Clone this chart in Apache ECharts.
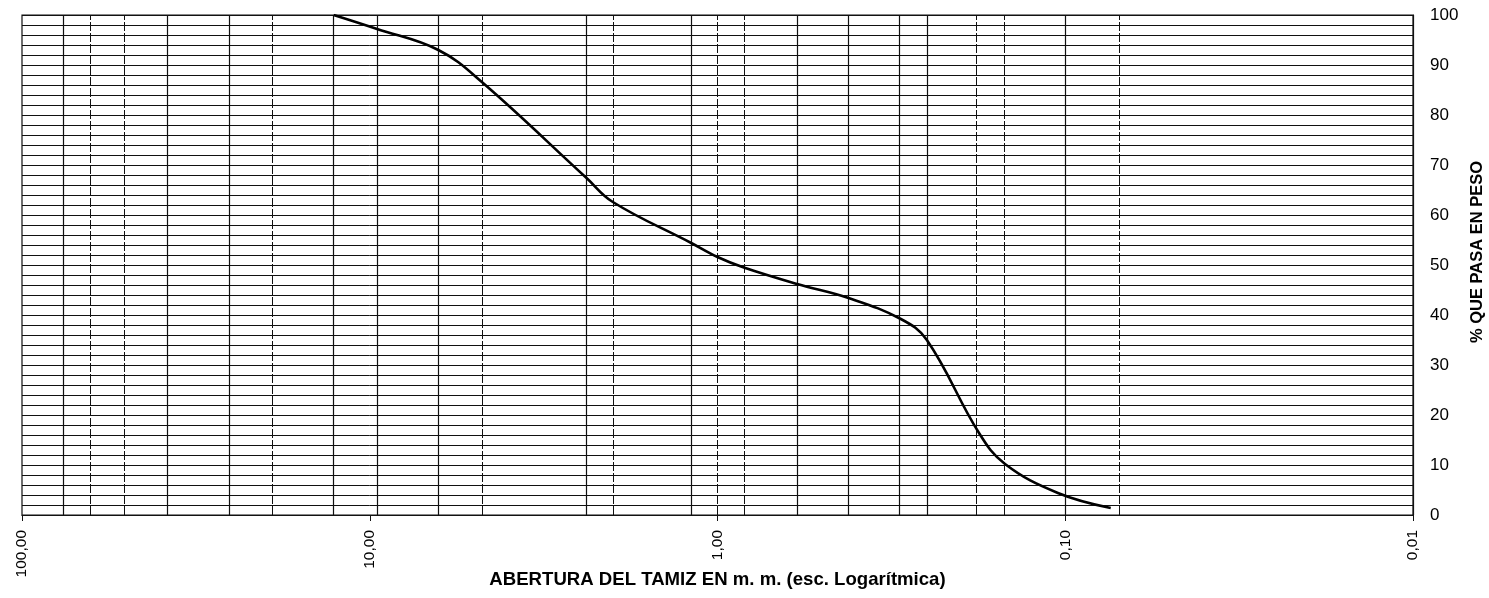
<!DOCTYPE html>
<html>
<head>
<meta charset="utf-8">
<script src="https://cdn.jsdelivr.net/npm/echarts@6/dist/echarts.min.js"></script>
<style>
html,body{margin:0;padding:0;background:#fff;}
#chart{width:1489px;height:598px;}
</style>
</head>
<body>
<div id="chart"></div>
<script>
// Sieve openings (mm) drawn as vertical grid lines
const sieveSizes = [76.2, 63.5, 50.8, 38.1, 25.4, 19.05, 12.7, 9.525, 6.35, 4.76, 2.38, 2.00, 1.19, 1.00, 0.84, 0.59, 0.42, 0.297, 0.25, 0.177, 0.149, 0.105, 0.074];
const dashedSieves = [63.5, 50.8, 19.05, 4.76, 2.00, 1.00, 0.84, 0.177, 0.149, 0.074];
// Gradation curve
const curveSizes = [12.7, 9.525, 6.35, 4.76, 2.38, 2.00, 1.19, 1.00, 0.84, 0.59, 0.42, 0.297, 0.25, 0.177, 0.149, 0.105, 0.074];
const percentPassing = [100, 97.2, 93.0, 86.6, 67.4, 62.6, 54.4, 51.6, 49.5, 46.2, 43.4, 39.2, 35.0, 16.4, 10.2, 4.4, 1.4];
// Axis ranges
const xMin = 0.01, xMax = 100;
const yMin = 0, yMax = 100, yStep = 10;
const xTitle = 'ABERTURA DEL TAMIZ EN m. m. (esc. Logarítmica)';
const yTitle = '% QUE PASA EN PESO';

const FONT = '"Liberation Sans", Arial, sans-serif';
const chart = echarts.init(document.getElementById('chart'));

const curveData = curveSizes.map((s, i) => [s, percentPassing[i]]);
const vLines = sieveSizes.map(s => ({
  xAxis: s,
  lineStyle: dashedSieves.includes(s)
    ? { color: '#111', width: 1, type: [9, 2] }
    : { color: '#111', width: 1.2, type: 'solid' }
}));

chart.setOption({
  animation: false,
  backgroundColor: '#fff',
  grid: { left: 22, right: 76, top: 15, bottom: 83, show: true, borderColor: '#111', borderWidth: 1.2,
          containLabel: false, outerBoundsMode: 'none' },
  xAxis: {
    type: 'log', logBase: 10, min: xMin, max: xMax, inverse: true,
    name: xTitle, nameLocation: 'middle', nameGap: 55, nameMoveOverlap: false,
    nameTextStyle: { fontFamily: FONT, fontWeight: 'bold', fontSize: 18.6, color: '#000' },
    axisLine: { show: true, lineStyle: { color: '#111', width: 1.2 } },
    axisTick: { show: true, length: 6, lineStyle: { color: '#111' } },
    axisLabel: {
      rotate: 90, margin: 15, fontFamily: FONT, fontSize: 15.5, color: '#000',
      formatter: v => Number(v).toFixed(2).replace('.', ',')
    },
    splitLine: { show: false },
    minorTick: { show: false },
    minorSplitLine: { show: false }
  },
  yAxis: {
    type: 'value', min: yMin, max: yMax, interval: yStep, position: 'right',
    name: yTitle, nameLocation: 'middle', nameRotate: 90, nameGap: 56, nameMoveOverlap: false,
    nameTextStyle: { fontFamily: FONT, fontWeight: 'bold', fontSize: 16.5, color: '#000', padding: [0, 0, 0, 26] },
    axisLine: { show: true, lineStyle: { color: '#111', width: 1.2 } },
    axisTick: { show: false },
    axisLabel: { margin: 17, fontFamily: FONT, fontSize: 17, color: '#000' },
    splitLine: { show: true, lineStyle: { color: '#111', width: 1 } },
    minorTick: { show: false, splitNumber: 5 },
    minorSplitLine: { show: true, lineStyle: { color: '#111', width: 1 } }
  },
  series: [{
    type: 'line',
    data: curveData,
    smooth: 0.4,
    showSymbol: false,
    lineStyle: { color: '#000', width: 2.6 },
    z: 5,
    markLine: {
      silent: true, symbol: 'none', animation: false,
      label: { show: false },
      emphasis: { disabled: true },
      data: vLines
    }
  }]
});
</script>
</body>
</html>
